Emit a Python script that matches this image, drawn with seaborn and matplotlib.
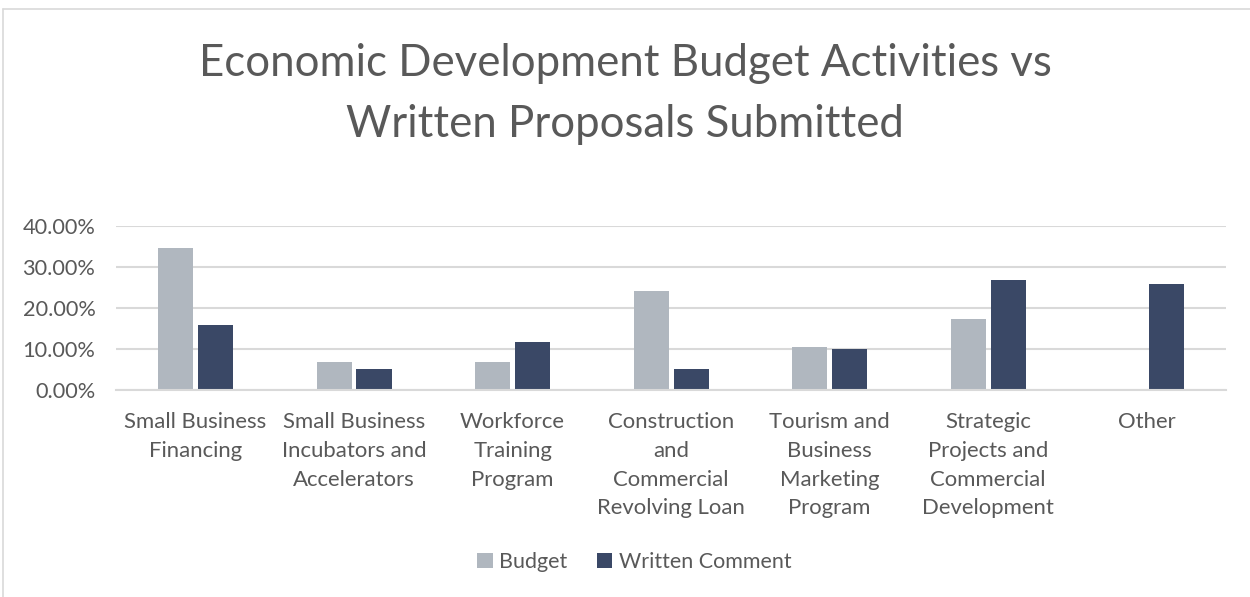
import matplotlib
matplotlib.use("Agg")
import matplotlib.pyplot as plt
from matplotlib.lines import Line2D
from matplotlib.ticker import PercentFormatter
import seaborn as sns
import pandas as pd

categories = [
    "Small Business\nFinancing",
    "Small Business\nIncubators and\nAccelerators",
    "Workforce\nTraining\nProgram",
    "Construction\nand\nCommercial\nRevolving Loan",
    "Tourism and\nBusiness\nMarketing\nProgram",
    "Strategic\nProjects and\nCommercial\nDevelopment",
    "Other",
]
budget = [0.3447, 0.0683, 0.0683, 0.2415, 0.1040, 0.1720, 0.0]
written_comment = [0.1585, 0.0496, 0.1170, 0.0496, 0.1000, 0.2667, 0.2585]
series_names = ["Budget", "Written Comment"]
colors = ["#B0B7BF", "#3A4866"]
yticks = [0.0, 0.1, 0.2, 0.3, 0.4]

df = pd.DataFrame({
    "Activity": categories * 2,
    "Share": budget + written_comment,
    "Series": [series_names[0]] * len(categories) + [series_names[1]] * len(categories),
})

sns.set_theme(style="white")
plt.rcParams["font.family"] = ["Lato", "DejaVu Sans"]
text_color = "#595959"
grid_color = "#D9D9D9"

fig = plt.figure(figsize=(12.5, 5.97), dpi=100)
ax = fig.add_axes([0.0930, 0.3472, 0.8878, 0.2747])

sns.barplot(
    data=df, x="Activity", y="Share", hue="Series",
    palette=colors, width=0.503, gap=0.12, ax=ax,
    saturation=1, linewidth=0, legend=True,
)

ax.set_xlim(-0.5, len(categories) - 0.5)
ax.set_ylim(0, 0.4)
ax.set_yticks(yticks)
ax.yaxis.set_major_formatter(PercentFormatter(1.0, decimals=2))
ax.grid(axis="y", color=grid_color, linewidth=1.5)
ax.set_axisbelow(True)
for side in ["top", "right", "left"]:
    ax.spines[side].set_visible(False)
ax.spines["bottom"].set_color(grid_color)
ax.spines["bottom"].set_linewidth(1.5)
ax.set_xlabel("")
ax.set_ylabel("")
ax.tick_params(axis="y", length=0, pad=15, labelsize=15.7, labelcolor=text_color)
ax.tick_params(axis="x", length=0, pad=16, labelsize=15.9, labelcolor=text_color)
for lbl in ax.get_xticklabels():
    lbl.set_linespacing(1.55)
    lbl.set_verticalalignment("top")

handles, labels = ax.get_legend_handles_labels()
ax.legend_.remove()
fig.legend(
    handles, labels, loc="center", bbox_to_anchor=(0.5076, 0.0586),
    ncol=2, frameon=False, fontsize=15.5, labelcolor=text_color,
    handlelength=0.7, handleheight=0.7, handletextpad=0.3, columnspacing=1.4,
)

fig.text(
    0.5, 1 - 94 / 597,
    "Economic Development Budget Activities vs\nWritten Proposals Submitted",
    ha="center", va="center", fontsize=31.5, color=text_color, linespacing=1.58,
)

# outer chart frame (top and left edges)
fig.add_artist(Line2D([0.0024, 1.0], [1 - 9 / 597, 1 - 9 / 597],
                      transform=fig.transFigure, color=grid_color, linewidth=1.2))
fig.add_artist(Line2D([0.0024, 0.0024], [0.0, 1 - 9 / 597],
                      transform=fig.transFigure, color=grid_color, linewidth=1.2))

fig.savefig("out.png", dpi=100, facecolor="white")
